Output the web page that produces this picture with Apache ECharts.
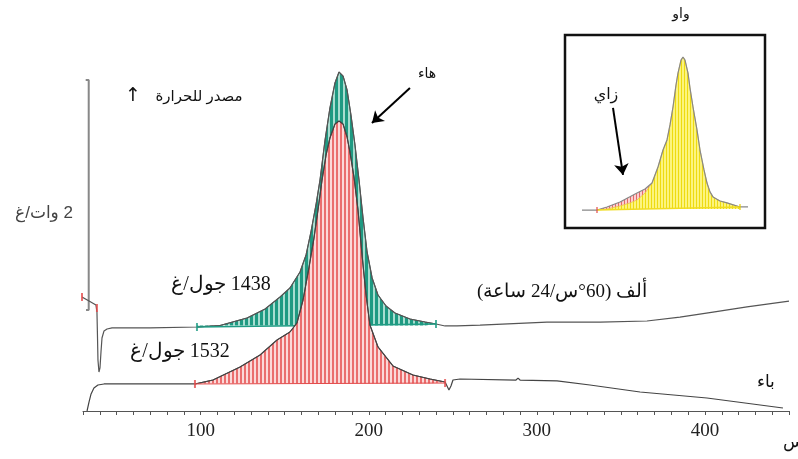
<!DOCTYPE html>
<html><head><meta charset="utf-8">
<script src="https://cdn.jsdelivr.net/npm/echarts@6/dist/echarts.min.js"></script>
<style>html,body{margin:0;padding:0;background:#fff}#c{width:798px;height:459px}</style>
</head><body><div id="c"></div>
<script>
// ---------- data (temperature °C, heat flow W/g) ----------
const curveA = [[29.4,0.983],[33.6,0.948],[37.7,0.914],[38.3,0.853],[38.6,0.655],[38.9,0.440],[39.5,0.336],[40.1,0.371],[40.7,0.509],[41.3,0.629],[42.5,0.690],[44.3,0.707],[47.3,0.716],[69.9,0.716],[97.8,0.724],[111.5,0.737],[127.6,0.802],[138.3,0.879],[147.2,0.983],[153.1,1.060],[159.1,1.198],[162.7,1.345],[165.6,1.543],[168.6,1.776],[171.0,1.991],[174.0,2.336],[176.9,2.612],[179.9,2.828],[182.3,2.922],[184.7,2.888],[187.1,2.767],[189.4,2.552],[191.8,2.293],[194.2,1.991],[196.6,1.664],[199.0,1.371],[202.0,1.147],[205.5,1.000],[210.3,0.905],[215.6,0.845],[224.5,0.793],[233.5,0.767],[240.0,0.750],[245.4,0.733],[252.5,0.733],[266.2,0.741],[306.0,0.767],[337.6,0.767],[365.5,0.776],[385.1,0.810],[404.8,0.853],[425.0,0.897],[450.0,0.948]];
const curveB = [[32.4,0],[33.6,0.078],[34.8,0.147],[36.5,0.198],[38.9,0.224],[42.5,0.233],[69.9,0.233],[96.6,0.233],[107.3,0.267],[123.4,0.379],[135.3,0.483],[145.4,0.612],[153.1,0.681],[157.3,0.759],[160.9,0.957],[164.4,1.233],[167.4,1.491],[169.8,1.733],[172.2,1.991],[174.6,2.207],[176.9,2.353],[179.9,2.474],[182.3,2.5],[184.7,2.474],[187.1,2.362],[188.8,2.233],[191.2,2.017],[193.6,1.733],[196.0,1.345],[198.4,1.0],[200.7,0.741],[205.5,0.552],[214.4,0.388],[226.3,0.310],[236.4,0.276],[245.4,0.250],[246.5,0.241],[247.7,0.181],[248.9,0.216],[250.1,0.267],[254.3,0.276],[287.6,0.267],[288.8,0.284],[290.0,0.267],[312.0,0.259],[331.6,0.224],[361.4,0.164],[401.2,0.112],[446.4,0.026]];
const baseA = [[97.8,0.724],[240.0,0.750]];
const baseB = [[96.6,0.233],[245.4,0.241]];
const rangeA = [97.8, 240.0];
const rangeB = [96.6, 245.4];
const startMarks = [[29.4,0.983],[38.3,0.888]];
const scaleBar = [[31.6,2.853],[33.4,2.853],[33.4,0.871],[31.8,0.871]];
const arrowE = [[224.5,2.784],[201.9,2.483]];
const xTickLabels = [100,200,300,400];
// inset (relative units 0..100)
const insetCurve = [[8.5,9.3],[16,9.3],[21,10.9],[27.5,13.5],[36,18.1],[40,20.2],[43.5,23.3],[46.5,31.6],[49,40.4],[51,45.6],[52.5,53.4],[54,62.7],[55.5,74.1],[56.5,80.3],[58,87.0],[59,88.6],[60,87.0],[61.5,80.3],[62.5,72.5],[64,62.7],[66,50.8],[67.5,40.4],[69.5,30.1],[71,23.3],[72.5,18.7],[74,16.1],[77.5,14.0],[81,13.0],[87.5,10.9],[91.5,10.9]];
const yellowEdge = [[16,9.3],[21,9.8],[27.5,11.4],[32.5,13.0],[36,14.5],[40,18.1],[43.5,23.3]];
const insetBase = [[16,9.3],[87.5,10.9]];
const arrowG = [[24,62.2],[29,27.5]];

// ---------- helpers ----------
function stripes(period, lineW, c1, c2){
  const cv = document.createElement('canvas');
  cv.width = period; cv.height = 4;
  const ctx = cv.getContext('2d');
  ctx.fillStyle = c2; ctx.fillRect(0,0,period,4);
  ctx.fillStyle = c1; ctx.fillRect(0,0,lineW,4);
  return {image: cv, repeat: 'repeat'};
}
const RLE = '\u202B', PDF = '\u202C';
const rtl = s => RLE + s + PDF;
const inRange = (arr, r) => arr.filter(p => p[0] >= r[0] && p[0] <= r[1]);

const greenFill = stripes(5, 3, '#1f9a82', '#a9ddd0');
const redFill = stripes(4, 2, '#ea6e6e', '#fbd9d9');
const yellowFill = stripes(3, 1, '#eedb10', '#fcf47e');
const pinkFill = stripes(3, 1, '#e46a6a', '#fbd0d0');

const serif = '"Liberation Serif","DejaVu Serif",serif';
const sans = '"Liberation Sans","DejaVu Sans",sans-serif';

const yellowArea = yellowEdge.concat(insetCurve.filter(p => p[0] > 43.5 && p[0] <= 87.5));
const pinkArea = insetCurve.filter(p => p[0] >= 16 && p[0] <= 43.5);

function txt(x, y, s, font, fill){
  return {type:'text', x:x, y:y, z:50, style:{text:s, font:font, fill:fill||'#111',
    align:'center', verticalAlign:'middle', textAlign:'center', textVerticalAlign:'middle'}};
}

const chart = echarts.init(document.getElementById('c'), null, {renderer:'canvas'});
chart.setOption({
  animation: false,
  backgroundColor: '#fff',
  grid: [
    {left: 83, width: 706, top: 5, height: 406},
    {left: 565, top: 35, width: 200, height: 193, show: true, backgroundColor: '#fff', borderColor: '#111', borderWidth: 2.5}
  ],
  xAxis: [
    {type:'value', gridIndex:0, min:30, max:450, interval:10,
     axisLine:{lineStyle:{color:'#555', width:1}},
     axisTick:{length:4, lineStyle:{color:'#555'}},
     splitLine:{show:false},
     axisLabel:{margin:11, fontFamily:serif, fontSize:19, color:'#222',
       formatter: v => xTickLabels.indexOf(v) >= 0 ? String(v) : ''}},
    {type:'value', gridIndex:1, min:0, max:100, show:false}
  ],
  yAxis: [
    {type:'value', gridIndex:0, min:0, max:3.5, show:false},
    {type:'value', gridIndex:1, min:0, max:100, show:false}
  ],
  series: [
    {type:'line', data: scaleBar, symbol:'none', clip:false, z:2,
     lineStyle:{color:'#888', width:2},
     markLine:{silent:true, symbol:['none','arrow'], symbolSize:11, label:{show:false},
       lineStyle:{color:'#000', width:2, type:'solid'},
       data:[[{coord: arrowE[0]},{coord: arrowE[1]}]]}},
    {type:'line', data: inRange(curveA, rangeA), symbol:'none', z:2,
     lineStyle:{color:'#4a5c58', width:1},
     areaStyle:{origin:0.737, color: greenFill, opacity:1}},
    {type:'line', data: curveA, symbol:'none', clip:false, z:3,
     lineStyle:{color:'#555', width:1.2}},
    {type:'line', data: baseA, symbol:'none', z:3, lineStyle:{color:'#1f9c84', width:1.6}},
    {type:'scatter', data: baseA, symbol:'rect', symbolSize:[2,8], z:3, itemStyle:{color:'#1f9c84'}},
    {type:'line', data: inRange(curveB, rangeB), symbol:'none', z:4,
     lineStyle:{color:'#5a4444', width:1},
     areaStyle:{origin:0.237, color: redFill, opacity:1}},
    {type:'line', data: curveB, symbol:'none', z:5, lineStyle:{color:'#444', width:1.2}},
    {type:'line', data: baseB, symbol:'none', z:5, lineStyle:{color:'#e34b4b', width:1}},
    {type:'scatter', data: baseB.concat(startMarks), symbol:'rect', symbolSize:[2,8], z:6, clip:false, itemStyle:{color:'#e34b4b'}},
    // inset
    {type:'line', xAxisIndex:1, yAxisIndex:1, data: pinkArea, symbol:'none', z:3,
     lineStyle:{width:0}, areaStyle:{origin:9.8, color: pinkFill, opacity:1}},
    {type:'line', xAxisIndex:1, yAxisIndex:1, data: yellowArea, symbol:'none', z:4,
     lineStyle:{color:'#e8c84a', width:0.8}, areaStyle:{origin:9.8, color: yellowFill, opacity:1}},
    {type:'line', xAxisIndex:1, yAxisIndex:1, data: insetCurve, symbol:'none', z:5,
     lineStyle:{color:'#888', width:1.2},
     markLine:{silent:true, symbol:['none','arrow'], symbolSize:11, label:{show:false},
       lineStyle:{color:'#000', width:2, type:'solid'},
       data:[[{coord: arrowG[0]},{coord: arrowG[1]}]]}},
    {type:'line', xAxisIndex:1, yAxisIndex:1, data: insetBase, symbol:'none', z:5,
     lineStyle:{color:'#f0dc20', width:1.5}},
    {type:'scatter', xAxisIndex:1, yAxisIndex:1, data: insetBase, symbol:'rect', symbolSize:[1.5,6], z:6,
     itemStyle:{color: p => p.dataIndex === 0 ? '#e34b4b' : '#e8d000'}}
  ],
  graphic: [
    txt(44, 213, rtl('2 وات/غ'), '17px ' + sans, '#444'),
    txt(199, 97, rtl('مصدر للحرارة'), '15px ' + sans, '#111'),
    txt(133, 96, '↑', '19px "DejaVu Sans",sans-serif', '#111'),
    txt(427, 74, rtl('هاء'), '14px ' + sans, '#111'),
    txt(221, 285, rtl('1438 جول/غ'), '20px ' + serif, '#111'),
    txt(180, 352, rtl('1532 جول/غ'), '20px ' + serif, '#111'),
    txt(562, 292, rtl('ألف (60°س/24 ساعة)'), '19px ' + serif, '#111'),
    txt(766, 383, rtl('باء'), '17px ' + serif, '#111'),
    txt(793, 443, rtl('س'), '17px ' + serif, '#111'),
    txt(681, 14, rtl('واو'), '14px ' + sans, '#111'),
    txt(606, 95, rtl('زاي'), '16px ' + sans, '#111')
  ]
});
</script></body></html>
